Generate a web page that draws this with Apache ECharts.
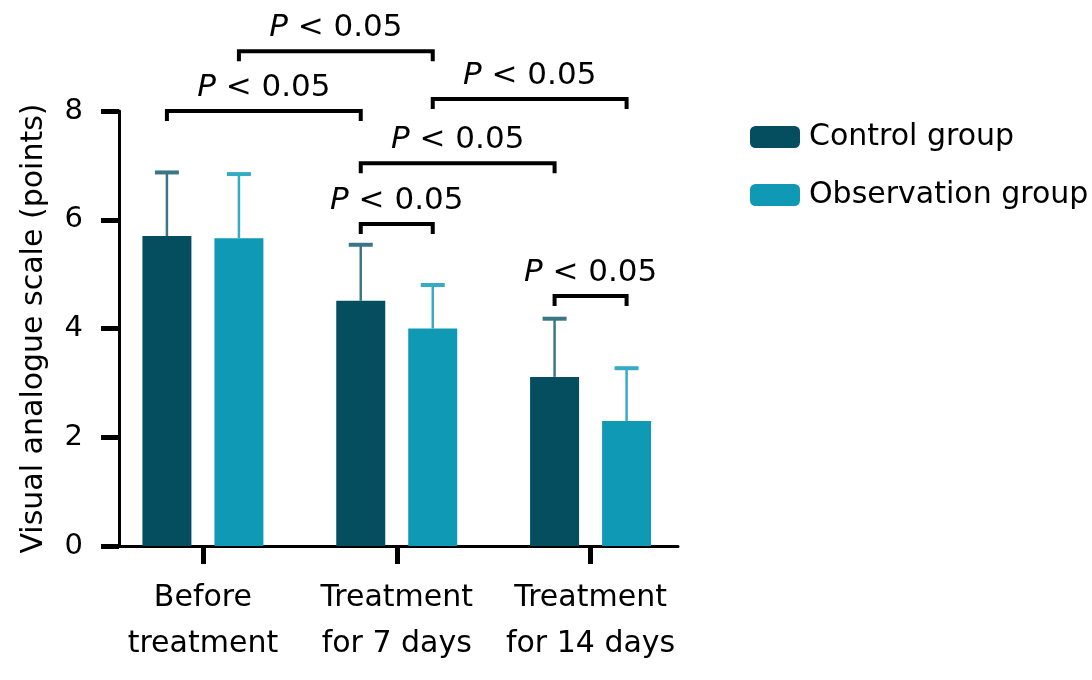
<!DOCTYPE html>
<html>
<head>
<meta charset="utf-8">
<script src="https://cdn.jsdelivr.net/npm/echarts@6/dist/echarts.min.js"></script>
<style>html,body{margin:0;padding:0;background:#fff}#c{width:1092px;height:680px}</style>
</head>
<body>
<div id="c"></div>
<script>
const categories = ['Before\ntreatment', 'Treatment\nfor 7 days', 'Treatment\nfor 14 days'];
const seriesNames = ['Control group', 'Observation group'];
const controlMean = [5.70, 4.51, 3.11];
const controlSD = [1.17, 1.03, 1.07];
const observationMean = [5.66, 4.00, 2.30];
const observationSD = [1.18, 0.80, 0.97];
const yTicks = [0, 2, 4, 6, 8];
// [category A, group A, category B, group B, bracket level, label]
const brackets = [
  [0, 0, 1, 0, 8.00, 'P < 0.05'],
  [0, 1, 1, 1, 9.10, 'P < 0.05'],
  [1, 1, 2, 1, 8.22, 'P < 0.05'],
  [1, 0, 2, 0, 7.04, 'P < 0.05'],
  [1, 0, 1, 1, 5.92, 'P < 0.05'],
  [2, 0, 2, 1, 4.60, 'P < 0.05']
];

const FONT = 'DejaVu Sans';
const colors = ['#054e5f', '#1099b4'];
const errColors = ['#3b7684', '#36acc4'];
const BAR_W = 49, BAR_GAP_PX = 23;
const OFFSET = (BAR_W + BAR_GAP_PX) / 2;
const groupOffset = [-OFFSET, OFFSET];

function errorSeries(name, means, sds, g) {
  return {
    type: 'custom', name: name + ' SD', xAxisIndex: 0, yAxisIndex: 0, z: 5,
    data: means.map((m, i) => [i, m, sds[i]]),
    renderItem: function (params, api) {
      const c = api.value(0), m = api.value(1), s = api.value(2);
      const base = api.coord([c, m]);
      const top = api.coord([c, m + s]);
      const x = base[0] + groupOffset[g];
      const st = {stroke: errColors[g], lineWidth: 2.5};
      return {type: 'group', children: [
        {type: 'line', shape: {x1: x, y1: base[1], x2: x, y2: top[1]}, style: st},
        {type: 'line', shape: {x1: x - 12, y1: top[1], x2: x + 12, y2: top[1]}, style: {stroke: errColors[g], lineWidth: 4}}
      ]};
    }
  };
}

const chart = echarts.init(document.getElementById('c'));
chart.setOption({
  animation: false,
  textStyle: {fontFamily: FONT},
  legend: {
    data: seriesNames, orient: 'vertical', left: 745, top: 117,
    itemWidth: 50, itemHeight: 22, itemGap: 28, icon: 'roundRect',
    textStyle: {fontSize: 30, color: '#000', fontFamily: FONT, padding: [0, 0, 0, 4]}
  },
  grid: [
    {left: 106, width: 581.5, top: 111, bottom: 134},
    {left: 119, right: 414, top: 111, bottom: 134}
  ],
  xAxis: [
    {type: 'category', gridIndex: 0, data: categories,
     axisLine: {show: false},
     axisTick: {show: true, alignWithLabel: true, length: 18, lineStyle: {color: '#000', width: 5}},
     axisLabel: {interval: 0, fontSize: 30, color: '#000', lineHeight: 46, margin: 29, fontFamily: FONT}},
    {type: 'value', gridIndex: 1, min: 0, max: 1,
     axisLine: {show: true, lineStyle: {color: '#000', width: 3}},
     axisTick: {show: false}, axisLabel: {show: false}, splitLine: {show: false}}
  ],
  yAxis: [
    {type: 'value', gridIndex: 0, min: 0, max: 8, interval: 2, show: false},
    {type: 'value', gridIndex: 1, min: yTicks[0], max: yTicks[yTicks.length - 1], interval: 2,
     name: 'Visual analogue scale (points)', nameLocation: 'middle', nameGap: 70,
     nameTextStyle: {fontSize: 30, color: '#000', fontFamily: FONT},
     axisLine: {show: true, lineStyle: {color: '#000', width: 3}},
     axisTick: {show: true, length: 18, lineStyle: {color: '#000', width: 5}},
     axisLabel: {fontSize: 29, color: '#000', margin: 36, fontFamily: FONT},
     splitLine: {show: false}}
  ],
  series: [
    {type: 'bar', name: seriesNames[0], data: controlMean, barWidth: BAR_W,
     barGap: (BAR_GAP_PX / BAR_W * 100).toFixed(1) + '%', itemStyle: {color: colors[0]}, z: 3},
    {type: 'bar', name: seriesNames[1], data: observationMean, barWidth: BAR_W,
     itemStyle: {color: colors[1]}, z: 3},
    errorSeries(seriesNames[0], controlMean, controlSD, 0),
    errorSeries(seriesNames[1], observationMean, observationSD, 1),
    {type: 'custom', name: 'brackets', xAxisIndex: 0, yAxisIndex: 0, z: 6, clip: false,
     data: brackets.map(b => [b[0], b[4]]),
     renderItem: function (params, api) {
       const b = brackets[params.dataIndex];
       const pA = api.coord([b[0], b[4]]);
       const pB = api.coord([b[2], b[4]]);
       const x1 = pA[0] + groupOffset[b[1]];
       const x2 = pB[0] + groupOffset[b[3]];
       const y = pA[1];
       const parts = b[5].split(' ');
       return {type: 'group', children: [
         {type: 'polyline', shape: {points: [[x1, y + 10], [x1, y], [x2, y], [x2, y + 10]]},
          style: {stroke: '#000', lineWidth: 4, fill: null, lineJoin: 'miter'}},
         {type: 'text', x: (x1 + x2) / 2, y: y - 23,
          style: {text: '{i|' + parts[0] + '} ' + parts.slice(1).join(' '),
                  fontSize: 31, fontFamily: FONT, fill: '#000',
                  align: 'center', verticalAlign: 'middle',
                  rich: {i: {fontStyle: 'italic', fontSize: 31, fontFamily: FONT, fill: '#000'}}}}
       ]};
     }}
  ]
});
</script>
</body>
</html>
